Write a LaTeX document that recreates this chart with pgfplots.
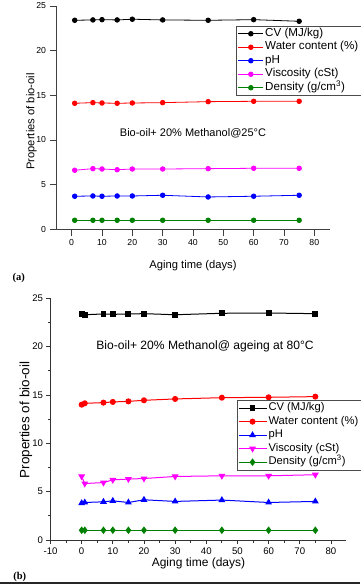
\documentclass[border=0pt]{standalone}
\usepackage{fontspec}
\setmainfont{Liberation Sans}
\newfontfamily\seriffont{Liberation Serif}
\usepackage{pgfplots}
\pgfplotsset{compat=1.18}
\definecolor{dgreen}{rgb}{0,0.5,0}
\definecolor{magen}{rgb}{1,0,1}
\pgfplotsset{
  mylegimg/.style={legend image code/.code={\draw[mark repeat=2,mark phase=2,##1] plot coordinates {(0pt,0pt) (#1,0pt) (2*#1,0pt)};}}
}
\begin{document}
\begin{tikzpicture}
\useasboundingbox (0pt,0pt) rectangle (360pt,584pt);
\fill[white] (0pt,0pt) rectangle (360pt,584pt);
\fill[black!85] (0pt,0pt) rectangle (360pt,2.3pt);
% ---------- panel (a)
\begin{axis}[
  at={(56.5pt,354.7pt)}, anchor=south west,
  scale only axis, width=273pt, height=223.3pt,
  xmin=-5, xmax=85, ymin=0, ymax=25,
  axis lines*=left,
  axis line style={black!75, line width=0.8pt},
  tick style={black!75, line width=0.8pt},
  tick align=outside, major tick length=7pt,
  xtick={0,10,...,80}, ytick={0,5,...,25},
  /pgf/number format/assume math mode=true,
  tick label style={font=\fontsize{8.7}{10}\selectfont},
  xlabel={Aging time (days)},
  ylabel={Properties of bio-oil},
  label style={font=\fontsize{11.2}{13}\selectfont},
  xlabel style={at={(axis description cs:0.5,0)}, anchor=center, yshift=-36.7pt},
  ylabel style={at={(axis description cs:0,0.483)}, anchor=center, rotate=0, yshift=25pt},
  every axis plot/.append style={line width=0.8pt, mark size=2.3pt},
  mylegimg=12.5pt,
  legend style={at={(axis description cs:0.656,0.912)}, anchor=north west,
    draw=black!70, line width=0.7pt, font=\fontsize{11.6}{13}\selectfont,
    row sep=0pt, inner xsep=2pt, inner ysep=1pt,
    nodes={inner sep=1.5pt, text height=8pt, text depth=2.5pt}},
  legend cell align=left,
]
\addplot[black, mark=*] coordinates {(1,23.40) (7,23.44) (10,23.47) (15,23.44) (20,23.52) (30,23.44) (45,23.40) (60,23.47) (75,23.29)};
\addlegendentry{CV (MJ/kg)}
\addplot[red, mark=*] coordinates {(1,14.11) (7,14.18) (10,14.14) (15,14.11) (20,14.14) (30,14.18) (45,14.29) (60,14.33) (75,14.33)};
\addlegendentry{Water content (\%)}
\addplot[blue, mark=*] coordinates {(1,3.70) (7,3.73) (10,3.70) (15,3.73) (20,3.73) (30,3.81) (45,3.62) (60,3.70) (75,3.81)};
\addlegendentry{pH}
\addplot[magen, mark=*] coordinates {(1,6.61) (7,6.79) (10,6.75) (15,6.67) (20,6.75) (30,6.75) (45,6.79) (60,6.83) (75,6.83)};
\addlegendentry{Viscosity (cSt)}
\addplot[dgreen, mark=*] coordinates {(1,1.01) (7,1.01) (10,1.01) (15,1.01) (20,1.01) (30,1.01) (45,1.01) (60,1.01) (75,1.01)};
\addlegendentry{Density (g/cm\textsuperscript{3})}
\node[font=\fontsize{11}{13}\selectfont] at (axis cs:40,10.8) {Bio-oil+ 20\% Methanol@25°C};
\end{axis}
% ---------- panel (b)
\begin{axis}[
  at={(50.5pt,44pt)}, anchor=south west,
  scale only axis, width=296pt, height=241.7pt,
  xmin=-10, xmax=85, ymin=0, ymax=25,
  axis lines*=left,
  axis line style={black!80, line width=0.8pt},
  tick style={black!80, line width=0.8pt},
  tick align=outside, major tick length=4pt, minor tick length=2.5pt,
  xtick={-10,0,...,80}, ytick={0,5,...,25},
  minor x tick num=1, minor y tick num=1,
  /pgf/number format/assume math mode=true,
  tick label style={font=\fontsize{9.6}{11}\selectfont},
  xlabel={Aging time (days)},
  ylabel={Properties of bio-oil},
  xlabel style={font=\fontsize{12}{14}\selectfont, at={(axis description cs:0.5,0)}, anchor=center, yshift=-23.3pt},
  ylabel style={font=\fontsize{13.5}{15}\selectfont, at={(axis description cs:0,0.496)}, anchor=center, yshift=24.5pt},
  every axis plot/.append style={line width=1pt},
  mylegimg=14pt,
  legend style={at={(axis description cs:0.629,0.579)}, anchor=north west,
    draw=black!70, line width=0.7pt, font=\fontsize{11.2}{13}\selectfont,
    row sep=0pt, inner xsep=1pt, inner ysep=1pt,
    nodes={inner sep=1.5pt, text height=8pt, text depth=2.5pt}},
  legend cell align=left,
]
\addplot[black, mark=square*, mark size=2.4pt] coordinates {(0,23.41) (1,23.30) (7,23.38) (10,23.34) (15,23.38) (20,23.41) (30,23.30) (45,23.45) (60,23.48) (75,23.41)};
\addlegendentry{CV (MJ/kg)}
\addplot[red, mark=*, mark size=2.5pt] coordinates {(0,14.00) (1,14.14) (7,14.21) (10,14.28) (15,14.34) (20,14.45) (30,14.59) (45,14.72) (60,14.76) (75,14.83)};
\addlegendentry{Water content (\%)}
\addplot[blue, mark=triangle*, mark size=3pt] coordinates {(0,3.81) (1,3.88) (7,3.95) (10,4.05) (15,3.88) (20,4.16) (30,3.99) (45,4.13) (60,3.88) (75,3.99)};
\addlegendentry{pH}
\addplot[magen, mark=triangle*, mark options={rotate=180}, mark size=3pt] coordinates {(0,6.57) (1,5.84) (7,5.94) (10,6.22) (15,6.30) (20,6.36) (30,6.57) (45,6.64) (60,6.64) (75,6.75)};
\addlegendentry{Viscosity (cSt)}
\addplot[dgreen, mark=diamond*, mark size=3pt] coordinates {(0,1.01) (1,1.01) (7,1.01) (10,1.01) (15,1.01) (20,1.01) (30,1.01) (45,1.01) (60,1.01) (75,1.01)};
\addlegendentry{Density (g/cm\textsuperscript{3})}
\node[font=\fontsize{12.1}{14}\selectfont] at (axis cs:39.6,20.0) {Bio-oil+ 20\% Methanol@ ageing at 80°C};
\end{axis}
\node[font=\seriffont\bfseries\fontsize{10.5}{12}\selectfont] at (18.8pt,306pt) {(a)};
\node[font=\seriffont\bfseries\fontsize{10.5}{12}\selectfont] at (19.7pt,7pt) {(b)};
\end{tikzpicture}
\end{document}
